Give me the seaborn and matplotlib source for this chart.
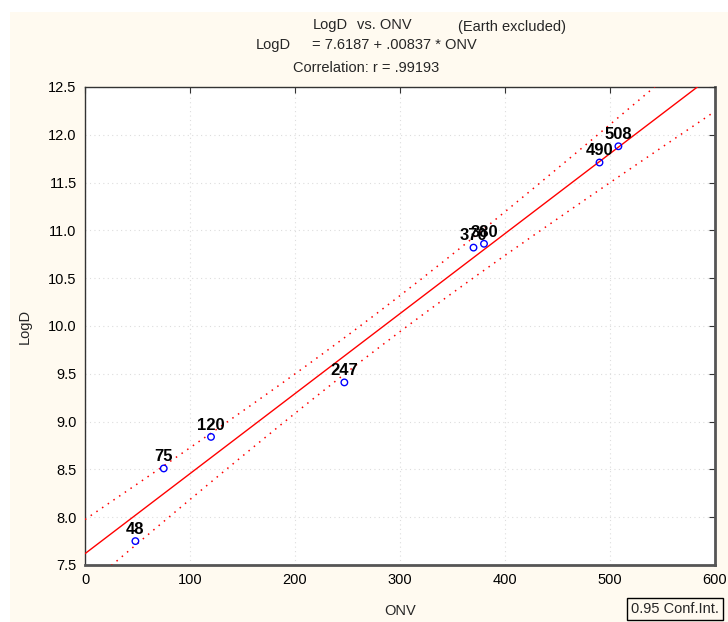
import numpy as np
import pandas as pd
import matplotlib
matplotlib.use("Agg")
import matplotlib.pyplot as plt
from matplotlib.patches import Rectangle
import seaborn as sns

# data
onv = [48, 75, 120, 247, 370, 380, 490, 508]
logd = [7.75, 8.51, 8.84, 9.41, 10.82, 10.86, 11.71, 11.88]
point_labels = ["48", "75", "120", "247", "370", "380", "490", "508"]
intercept = 7.6187
slope = 0.00837
r_value = ".99193"
x_ticks = [0, 100, 200, 300, 400, 500, 600]
y_ticks = [7.5, 8.0, 8.5, 9.0, 9.5, 10.0, 10.5, 11.0, 11.5, 12.0, 12.5]

CREAM = "#fffaf0"
W, H = 728, 622

sns.set_theme(style="white")
plt.rcParams["font.family"] = ["Liberation Sans", "DejaVu Sans"]

df = pd.DataFrame({"ONV": onv, "LogD": logd, "lab": point_labels})

fig = plt.figure(figsize=(W / 100, H / 100), dpi=100, facecolor="white")
fig.patches.append(Rectangle((10 / W, 0), 1, 1 - 12 / H, transform=fig.transFigure,
                             facecolor=CREAM, edgecolor="none", zorder=-10))
ax = fig.add_axes([85 / W, 1 - 565 / H, 630 / W, 478 / H])
ax.set_facecolor("white")

# fitted line and 0.95 confidence band of the mean
x = df["ONV"].to_numpy(float)
y = df["LogD"].to_numpy(float)
n = len(x)
resid = y - (intercept + slope * x)
s = np.sqrt((resid ** 2).sum() / (n - 2))
sxx = ((x - x.mean()) ** 2).sum()
t975 = 2.4469  # t(0.975, 6)
xx = np.linspace(0, 600, 200)
yy = intercept + slope * xx
half = t975 * s * np.sqrt(1 / n + (xx - x.mean()) ** 2 / sxx)

ax.plot(xx, yy, color="#ff0000", lw=1.0, zorder=3)
ax.plot(xx, yy + half, color="#ff0000", lw=1.1, ls=(0, (1, 3.5)), zorder=3)
ax.plot(xx, yy - half, color="#ff0000", lw=1.1, ls=(0, (1, 3.5)), zorder=3)

sns.scatterplot(data=df, x="ONV", y="LogD", ax=ax, marker="o", s=22,
                facecolor="none", edgecolor="#0000ff", linewidth=1.0, zorder=4)
for _, row in df.iterrows():
    ax.annotate(row["lab"], (row["ONV"], row["LogD"]), xytext=(0, 3),
                textcoords="offset points", ha="center", va="bottom",
                fontsize=12, fontweight="semibold", color="black", zorder=5)

ax.set_xlim(0, 600)
ax.set_ylim(7.5, 12.5)
ax.set_xticks(x_ticks)
ax.set_yticks(y_ticks)
ax.set_xticklabels([str(v) for v in x_ticks])
ax.set_yticklabels([f"{v:.1f}" for v in y_ticks])
ax.tick_params(direction="in", length=4, width=0.8, color="#333333",
               top=True, right=True, labelsize=10.5, pad=6, labelcolor="black")
ax.grid(True, color="#dddddd", ls=(0, (1, 3)), lw=0.8)
ax.set_xlabel("ONV", fontsize=10.5, labelpad=12)
ax.set_ylabel("LogD", fontsize=10.5, labelpad=12)
for side in ["left", "top"]:
    ax.spines[side].set_color("#333333")
    ax.spines[side].set_linewidth(1.0)
for side in ["right", "bottom"]:
    ax.spines[side].set_color("#555555")
    ax.spines[side].set_linewidth(2.0)

# header lines
fs = 10.5
fig.text(313 / W, 1 - 25 / H, "LogD", fontsize=fs, va="center")
fig.text(357 / W, 1 - 25 / H, "vs. ONV", fontsize=fs, va="center")
fig.text(458 / W, 1 - 27 / H, "(Earth excluded)", fontsize=fs, va="center")
fig.text(256 / W, 1 - 45 / H, "LogD", fontsize=fs, va="center")
fig.text(312 / W, 1 - 45 / H, f"= {intercept:.4f} + .{str(slope).split('.')[1]} * ONV",
         fontsize=fs, va="center")
fig.text(293 / W, 1 - 68 / H, f"Correlation: r = {r_value}", fontsize=fs, va="center")

fig.text(631 / W, 1 - 609 / H, "0.95 Conf.Int.", fontsize=fs, va="center",
         bbox=dict(boxstyle="square,pad=0.25", facecolor=CREAM, edgecolor="black", lw=1.0))

fig.savefig("out.png", dpi=100, facecolor=fig.get_facecolor())
